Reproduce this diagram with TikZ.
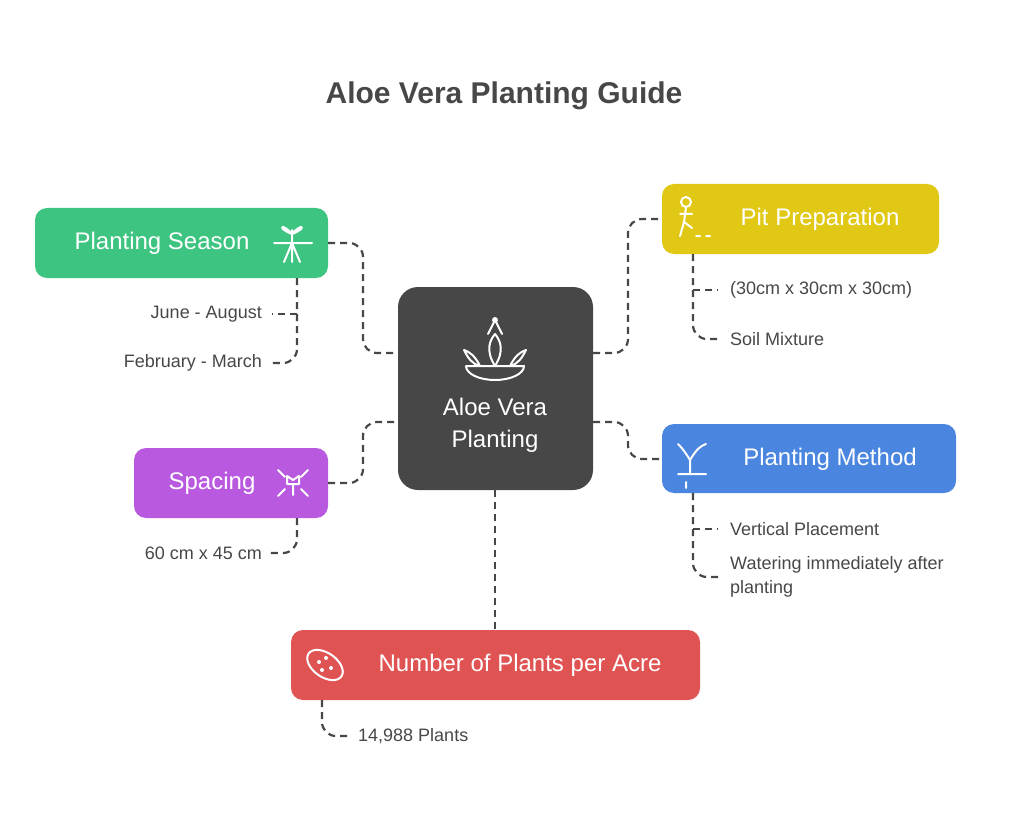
\documentclass[tikz,border=0pt]{standalone}
\usepackage{fontspec}
\setmainfont{Liberation Sans}
\begin{document}
\begin{tikzpicture}[x=1pt,y=-1pt,
  box/.style={rounded corners=12pt,inner sep=0pt,text=white,font=\fontsize{24}{28}\selectfont},
  conn/.style={draw=dk,line width=2.2pt,dash pattern=on 7pt off 5pt,rounded corners=14pt},
  sub/.style={font=\fontsize{18}{24}\selectfont,text=dk,inner sep=0pt},
  ico/.style={draw=white,line width=2pt,line cap=round,line join=round}]
\definecolor{dk}{HTML}{474747}
\definecolor{gr}{HTML}{3CC480}
\definecolor{ye}{HTML}{E0C815}
\definecolor{pu}{HTML}{B959E0}
\definecolor{bl}{HTML}{4A86E0}
\definecolor{re}{HTML}{E05353}
\useasboundingbox (0,0) rectangle (1024,818);
\node[font=\bfseries\fontsize{30}{34}\selectfont,text=dk] (title) at (504,96) {Aloe Vera Planting Guide};
% center
\fill[dk,rounded corners=20pt] (398,287) rectangle (593,490);
\coordinate (cL1) at (398,353); \coordinate (cL2) at (398,422);
\coordinate (cR1) at (593,353); \coordinate (cR2) at (593,422);
\coordinate (cB) at (495,490);
\node[text=white,align=center,font=\fontsize{24}{32}\selectfont] (center) at (495,425) {Aloe Vera\\Planting};
% center icon
\draw[ico] (466,366) -- (524,366) arc[start angle=0,end angle=-180,x radius=29,y radius=-14];
\draw[ico] (495,366) .. controls (485,350) and (490,340) .. (495,334) .. controls (500,340) and (505,350) .. (495,366);
\draw[ico] (480,366) .. controls (475,356) and (470,352) .. (464,350) .. controls (468,358) and (472,364) .. (480,366);
\draw[ico] (510,366) .. controls (515,356) and (520,352) .. (526,350) .. controls (522,358) and (518,364) .. (510,366);
\draw[ico] (488,334) -- (495,320) -- (502,334);
\fill[white] (495,320) circle (3);
% boxes
\fill[gr,rounded corners=12pt] (35,208) rectangle (328,278);
\node[box] (ps) at (162,243) {Planting Season};
\fill[ye,rounded corners=12pt] (662,184) rectangle (939,254);
\node[box] (pp) at (820,219) {Pit Preparation};
\fill[pu,rounded corners=12pt] (134,448) rectangle (328,518);
\node[box] (sp) at (212,483) {Spacing};
\fill[bl,rounded corners=12pt] (662,424) rectangle (956,493);
\node[box] (pm) at (830,459) {Planting Method};
\fill[re,rounded corners=12pt] (291,630) rectangle (700,700);
\node[box] (np) at (520,665) {Number of Plants per Acre};
% icons
\draw[ico] (274,243) -- (312,243) (292,230) -- (292,262) (292,243) -- (284,262) (292,243) -- (300,262)
  (292,234) .. controls (282,222) and (276,228) .. (292,234) (292,234) .. controls (302,222) and (308,228) .. (292,234);
\draw[ico] (686,202) circle (5) (686,207) -- (684,222) -- (692,228) (680,214) -- (692,214) (684,222) -- (680,236) (696,236) -- (700,236) (706,236) -- (710,236);
\draw[ico] (278,470) -- (285,477) (308,470) -- (301,477) (278,496) -- (285,489) (308,496) -- (301,489)
  (293,495) -- (293,484) (287,476) -- (287,484) -- (299,484) -- (299,476) -- (293,480) -- (287,476);
\draw[ico] (678,474) -- (706,474) (690,474) -- (690,460) .. controls (684,450) and (680,446) .. (678,444) (690,460) .. controls (696,450) and (700,446) .. (706,444) (686,482) -- (686,488);
\draw[ico,rotate around={-35:(325,665)}] (325,665) ellipse (20 and 12);
\foreach \p in {(319,662),(326,658),(331,668),(322,670)} \fill[white] \p circle (2);
% connectors
\draw[conn] (328,243) -- (363,243) -- (363,353) -- (cL1);
\draw[conn] (328,483) -- (363,483) -- (363,422) -- (cL2);
\draw[conn] (cR1) -- (628,353) -- (628,219) -- (662,219);
\draw[conn] (cR2) -- (628,422) -- (628,459) -- (662,459);
\draw[conn] (cB) -- (495,630);
% subs
\node[sub,anchor=east] (s1) at (262,314) {June - August};
\node[sub,anchor=east] (s2) at (262,363) {February - March};
\draw[conn] (297,278) -- (297,363) -- (270,363);
\draw[conn,rounded corners=0pt] (297,314) -- (272,314);
\node[sub,anchor=east] (s3) at (262,553) {60 cm x 45 cm};
\draw[conn] (297,518) -- (297,553) -- (270,553);
\node[sub,anchor=west] (s4) at (730,290) {(30cm x 30cm x 30cm)};
\node[sub,anchor=west] (s5) at (730,339) {Soil Mixture};
\draw[conn] (693,254) -- (693,339) -- (720,339);
\draw[conn,rounded corners=0pt] (693,290) -- (718,290);
\node[sub,anchor=west] (s6) at (730,529) {Vertical Placement};
\node[sub,anchor=north west,align=left] (s7) at (730,556) {Watering immediately after\\planting};
\draw[conn] (693,493) -- (693,577) -- (720,577);
\draw[conn,rounded corners=0pt] (693,529) -- (718,529);
\node[sub,anchor=west] (s8) at (358,736) {14,988 Plants};
\draw[conn] (322,700) -- (322,736) -- (348,736);
\end{tikzpicture}
\end{document}
